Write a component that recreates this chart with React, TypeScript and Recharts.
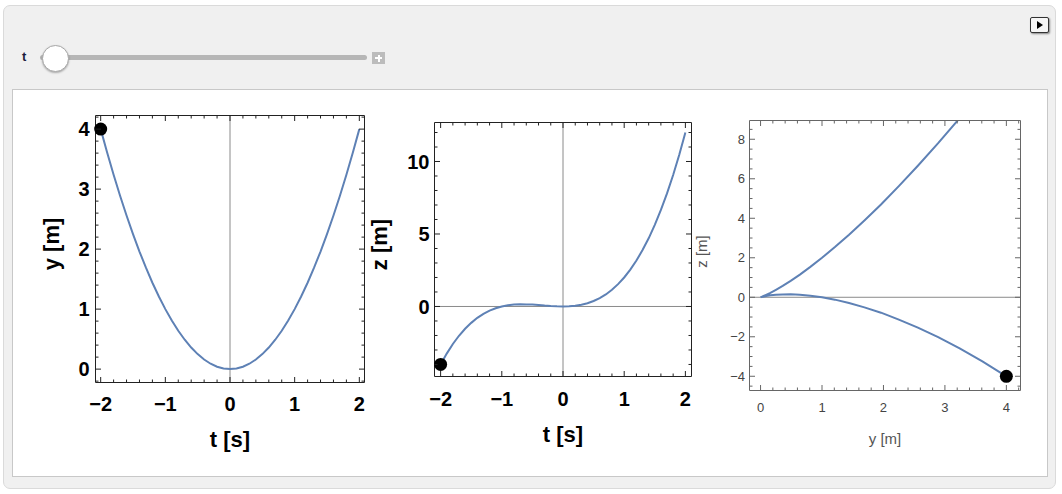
import React from 'react';
import { LineChart, Line, XAxis, YAxis, ReferenceLine, ReferenceDot } from 'recharts';

// ---- data ----
const tValues = [-2.0, -1.9, -1.8, -1.7, -1.6, -1.5, -1.4, -1.3, -1.2, -1.1, -1.0, -0.9, -0.8, -0.7, -0.6, -0.5, -0.4, -0.3, -0.2, -0.1, 0.0, 0.1, 0.2, 0.3, 0.4, 0.5, 0.6, 0.7, 0.8, 0.9, 1.0, 1.1, 1.2, 1.3, 1.4, 1.5, 1.6, 1.7, 1.8, 1.9, 2.0];
const yValues = [4.0, 3.61, 3.24, 2.89, 2.56, 2.25, 1.96, 1.69, 1.44, 1.21, 1.0, 0.81, 0.64, 0.49, 0.36, 0.25, 0.16, 0.09, 0.04, 0.01, 0.0, 0.01, 0.04, 0.09, 0.16, 0.25, 0.36, 0.49, 0.64, 0.81, 1.0, 1.21, 1.44, 1.69, 1.96, 2.25, 2.56, 2.89, 3.24, 3.61, 4.0];
const zValues = [-4.0, -3.25, -2.59, -2.02, -1.54, -1.13, -0.78, -0.51, -0.29, -0.12, 0.0, 0.08, 0.13, 0.15, 0.14, 0.13, 0.1, 0.06, 0.03, 0.01, 0.0, 0.01, 0.05, 0.12, 0.22, 0.38, 0.58, 0.83, 1.15, 1.54, 2.0, 2.54, 3.17, 3.89, 4.7, 5.63, 6.66, 7.8, 9.07, 10.47, 12.0];
const markerT = -2;
const markerY = 4;
const markerZ = -4;

// ---- tick values ----
const ticksT = [-2, -1.8, -1.6, -1.4, -1.2, -1, -0.8, -0.6, -0.4, -0.2, 0, 0.2, 0.4, 0.6, 0.8, 1, 1.2, 1.4, 1.6, 1.8, 2];
const ticksTMajor = [-2, -1, 0, 1, 2];
const ticksY1 = [-0.2, 0, 0.2, 0.4, 0.6, 0.8, 1, 1.2, 1.4, 1.6, 1.8, 2, 2.2, 2.4, 2.6, 2.8, 3, 3.2, 3.4, 3.6, 3.8, 4, 4.2];
const ticksY1Major = [0, 1, 2, 3, 4];
const ticksZ2 = [-4, -3, -2, -1, 0, 1, 2, 3, 4, 5, 6, 7, 8, 9, 10, 11, 12];
const ticksZ2Major = [0, 5, 10];
const ticksY3 = [0, 0.2, 0.4, 0.6, 0.8, 1, 1.2, 1.4, 1.6, 1.8, 2, 2.2, 2.4, 2.6, 2.8, 3, 3.2, 3.4, 3.6, 3.8, 4, 4.2];
const ticksY3Major = [0, 1, 2, 3, 4];
const ticksZ3 = [-4.5, -4, -3.5, -3, -2.5, -2, -1.5, -1, -0.5, 0, 0.5, 1, 1.5, 2, 2.5, 3, 3.5, 4, 4.5, 5, 5.5, 6, 6.5, 7, 7.5, 8, 8.5];
const ticksZ3Major = [-4, -2, 0, 2, 4, 6, 8];

const rows = tValues.map((t, i) => ({ t, y: yValues[i], z: zValues[i] }));

const FONT = '"Liberation Sans", Arial, Helvetica, sans-serif';
const CURVE = '#5E81B5';
const W = 1062;
const H = 494;

type Side = 'bottom' | 'top' | 'left' | 'right';
interface TickStyle {
  major: number;
  minor: number;
  font: number;
  weight: number | string;
  color: string;
  frame: string;
  xGap: number;
  yGap: number;
}

const fmt = (v: number) => (v < 0 ? '\u2212' + String(Math.abs(v)) : String(v));

const makeTick = (side: Side, majors: number[], labeled: boolean, st: TickStyle) => (props: any) => {
  const { x, y, payload } = props;
  const v = payload.value as number;
  const isMajor = majors.some((m) => Math.abs(m - v) < 1e-6);
  const len = isMajor ? st.major : st.minor;
  let x2 = x;
  let y2 = y;
  if (side === 'bottom') y2 = y - len;
  if (side === 'top') y2 = y + len;
  if (side === 'left') x2 = x + len;
  if (side === 'right') x2 = x - len;
  let label = null;
  if (labeled && isMajor) {
    if (side === 'bottom') {
      label = (
        <text x={x} y={y + st.xGap} textAnchor="middle" fontSize={st.font} fontWeight={st.weight} fill={st.color} fontFamily={FONT}>
          {fmt(v)}
        </text>
      );
    } else if (side === 'left') {
      label = (
        <text x={x - st.yGap} y={y + st.font * 0.36} textAnchor="end" fontSize={st.font} fontWeight={st.weight} fill={st.color} fontFamily={FONT}>
          {fmt(v)}
        </text>
      );
    }
  }
  return (
    <g>
      <line x1={x} y1={y} x2={x2} y2={y2} stroke={st.frame} strokeWidth={1} />
      {label}
    </g>
  );
};

interface TitleStyle {
  font: number;
  weight: number | string;
  color: string;
  xBaseline: number;
  yBaseline: number;
  yCenterShift: number;
}

interface PlotProps {
  xKey: string;
  yKey: string;
  frame: { l: number; t: number; r: number; b: number };
  xDomain: [number, number];
  yDomain: [number, number];
  xTicks: number[];
  xMajor: number[];
  yTicks: number[];
  yMajor: number[];
  st: TickStyle;
  ts: TitleStyle;
  xTitle: string;
  yTitle: string;
  vAxis: boolean;
  hAxis: boolean;
  dot: { x: number; y: number };
}

function FramePlot(p: PlotProps) {
  const { frame: f, st, ts } = p;
  const axisLine = { stroke: st.frame, strokeWidth: 1 };
  const bottomTitle = () => {
    const cx = (f.l + f.r) / 2;
    return (
      <text x={cx} y={f.b + ts.xBaseline} textAnchor="middle" fontSize={ts.font} fontWeight={ts.weight} fill={ts.color} fontFamily={FONT}>
        {p.xTitle}
      </text>
    );
  };
  const leftTitle = () => {
    const cy = (f.t + f.b) / 2 + ts.yCenterShift;
    return (
      <text transform={`translate(${ts.yBaseline},${cy}) rotate(-90)`} textAnchor="middle" fontSize={ts.font} fontWeight={ts.weight} fill={ts.color} fontFamily={FONT}>
        {p.yTitle}
      </text>
    );
  };
  return (
    <div style={{ position: 'absolute', left: 0, top: 0 }}>
      <LineChart
        width={W}
        height={H}
        data={rows}
        margin={{ top: f.t - 1, left: f.l - 1, right: W - f.r - 1, bottom: H - f.b - 1 }}
      >
        <XAxis
          xAxisId="b"
          type="number"
          dataKey={p.xKey}
          domain={p.xDomain}
          allowDataOverflow
          ticks={p.xTicks}
          interval={0}
          height={1}
          tickSize={0}
          tickMargin={0}
          tickLine={false}
          axisLine={axisLine}
          tick={makeTick('bottom', p.xMajor, true, st)}
          label={{ content: bottomTitle }}
        />
        <XAxis
          xAxisId="tp"
          orientation="top"
          type="number"
          dataKey={p.xKey}
          domain={p.xDomain}
          allowDataOverflow
          ticks={p.xTicks}
          interval={0}
          height={1}
          tickSize={0}
          tickMargin={0}
          tickLine={false}
          axisLine={axisLine}
          tick={makeTick('top', p.xMajor, false, st)}
        />
        <YAxis
          yAxisId="l"
          type="number"
          domain={p.yDomain}
          allowDataOverflow
          ticks={p.yTicks}
          interval={0}
          width={1}
          tickSize={0}
          tickMargin={0}
          tickLine={false}
          axisLine={axisLine}
          tick={makeTick('left', p.yMajor, true, st)}
          label={{ content: leftTitle }}
        />
        <YAxis
          yAxisId="r"
          orientation="right"
          type="number"
          dataKey={p.yKey}
          domain={p.yDomain}
          allowDataOverflow
          ticks={p.yTicks}
          interval={0}
          width={1}
          tickSize={0}
          tickMargin={0}
          tickLine={false}
          axisLine={axisLine}
          tick={makeTick('right', p.yMajor, false, st)}
        />
        {p.vAxis && <ReferenceLine xAxisId="b" yAxisId="l" x={0} stroke="#8a8a8a" strokeWidth={1} />}
        {p.hAxis && <ReferenceLine xAxisId="b" yAxisId="l" y={0} stroke="#8a8a8a" strokeWidth={1} />}
        <Line
          xAxisId="b"
          yAxisId="l"
          type="linear"
          dataKey={p.yKey}
          stroke={CURVE}
          strokeWidth={2}
          dot={false}
          activeDot={false}
          isAnimationActive={false}
        />
        <Line
          xAxisId="tp"
          yAxisId="r"
          type="linear"
          dataKey={p.yKey}
          stroke="none"
          strokeWidth={0}
          dot={false}
          activeDot={false}
          legendType="none"
          isAnimationActive={false}
        />
        <ReferenceDot xAxisId="b" yAxisId="l" x={p.dot.x} y={p.dot.y} r={6.5} fill="#000" stroke="none" />
      </LineChart>
    </div>
  );
}

const boldTick: TickStyle = { major: 5.5, minor: 3, font: 20, weight: 'bold', color: '#000', frame: '#222', xGap: 28, yGap: 6 };
const boldTick2: TickStyle = { ...boldTick, xGap: 29.5, yGap: 5 };
const grayTick: TickStyle = { major: 5.5, minor: 3, font: 13, weight: 'normal', color: '#444', frame: '#666', xGap: 21, yGap: 4.5 };

export default function App() {
  return (
    <div style={{ position: 'absolute', left: 0, top: 0, width: W, height: H, background: '#fff', fontFamily: FONT, overflow: 'hidden' }}>
      <div style={{ position: 'absolute', left: 3, top: 5, width: 1053, height: 484, background: '#f0f0f0', border: '1px solid #dadada', borderRadius: 7, boxSizing: 'border-box' }} />
      <div style={{ position: 'absolute', left: 1030, top: 17, width: 19, height: 16, background: '#f6f6f6', border: '1.5px solid #333', borderRadius: 2, boxSizing: 'border-box', boxShadow: '1px 1px 2px rgba(0,0,0,0.45)' }}>
        <div style={{ position: 'absolute', left: 6, top: 2.5, width: 0, height: 0, borderTop: '4.5px solid transparent', borderBottom: '4.5px solid transparent', borderLeft: '6px solid #000' }} />
      </div>
      <div style={{ position: 'absolute', left: 22, top: 49, fontSize: 13, fontWeight: 'bold', color: '#1c1c3c', fontFamily: FONT }}>t</div>
      <div style={{ position: 'absolute', left: 40, top: 55, width: 327, height: 5, background: '#b6b6b6', borderRadius: 3 }} />
      <div style={{ position: 'absolute', left: 42, top: 45, width: 27, height: 27, borderRadius: '50%', background: '#fff', border: '1px solid #a8a8a8', boxSizing: 'border-box', boxShadow: '0 1px 2px rgba(0,0,0,0.3)' }} />
      <div style={{ position: 'absolute', left: 372, top: 52, width: 13, height: 12, background: '#bcbcbc' }}>
        <div style={{ position: 'absolute', left: 3, top: 5, width: 7, height: 2, background: '#fff' }} />
        <div style={{ position: 'absolute', left: 5.5, top: 2.5, width: 2, height: 7, background: '#fff' }} />
      </div>
      <div style={{ position: 'absolute', left: 12, top: 89, width: 1036, height: 388, background: '#fff', border: '1px solid #c8c8c8', boxSizing: 'border-box' }} />

      <FramePlot
        xKey="t"
        yKey="y"
        frame={{ l: 95.5, t: 115.5, r: 364.5, b: 382.5 }}
        xDomain={[-2.08, 2.08]}
        yDomain={[-0.223, 4.227]}
        xTicks={ticksT}
        xMajor={ticksTMajor}
        yTicks={ticksY1}
        yMajor={ticksY1Major}
        st={boldTick}
        ts={{ font: 22, weight: 'bold', color: '#000', xBaseline: 64.5, yBaseline: 59, yCenterShift: -5 }}
        xTitle="t [s]"
        yTitle="y [m]"
        vAxis={true}
        hAxis={false}
        dot={{ x: markerT, y: markerY }}
      />
      <FramePlot
        xKey="t"
        yKey="z"
        frame={{ l: 434.5, t: 122.5, r: 691.5, b: 376.5 }}
        xDomain={[-2.1, 2.1]}
        yDomain={[-4.83, 12.69]}
        xTicks={ticksT}
        xMajor={ticksTMajor}
        yTicks={ticksZ2}
        yMajor={ticksZ2Major}
        st={boldTick2}
        ts={{ font: 22, weight: 'bold', color: '#000', xBaseline: 65, yBaseline: 387, yCenterShift: -5 }}
        xTitle="t [s]"
        yTitle="z [m]"
        vAxis={true}
        hAxis={true}
        dot={{ x: markerT, y: markerZ }}
      />
      <FramePlot
        xKey="y"
        yKey="z"
        frame={{ l: 749.5, t: 120.5, r: 1020.5, b: 390.5 }}
        xDomain={[-0.18, 4.23]}
        yDomain={[-4.72, 8.95]}
        xTicks={ticksY3}
        xMajor={ticksY3Major}
        yTicks={ticksZ3}
        yMajor={ticksZ3Major}
        st={grayTick}
        ts={{ font: 15, weight: 'normal', color: '#555', xBaseline: 53.5, yBaseline: 707, yCenterShift: -4 }}
        xTitle="y [m]"
        yTitle="z [m]"
        vAxis={false}
        hAxis={true}
        dot={{ x: markerY, y: markerZ }}
      />
    </div>
  );
}
